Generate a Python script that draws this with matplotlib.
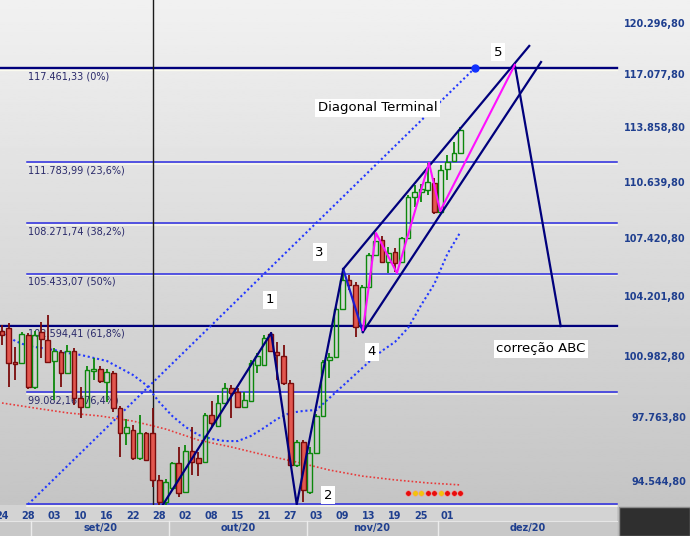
import matplotlib
matplotlib.use('Agg')
import matplotlib.pyplot as plt
import matplotlib.patheffects as pe
from matplotlib.ticker import NullLocator
from matplotlib.transforms import blended_transform_factory
import numpy as np


# ---------------------------------------------------------------------------------
# Ibovespa diário, um candle por pregão
# ---------------------------------------------------------------------------------
abertura = [102310, 102470, 100650, 100600, 102090, 99340, 102250, 101820, 100710, 101190,
            100080, 101240, 98770, 98300, 100180, 100290, 99600, 100080, 98250, 96970,
            97120, 95710, 96970, 96970, 94610, 93520, 94210, 95450, 94010, 96060,
            95710, 95500, 97890, 97330, 98510, 99290, 99080, 98300, 98610, 100500,
            100500, 102150, 101190, 100970, 99550, 95350, 96510, 94010, 95960, 97840,
            100760, 100920, 103500, 105080, 104810, 102520, 104700, 106470, 107320, 106080,
            106640, 106080, 107430, 109770, 110060, 110170, 110580, 108910, 111390, 111860,
            112330]
maxima = [102630, 102740, 101450, 102250, 102200, 102310, 102790, 103170, 101400, 101290,
          101560, 101400, 99340, 100440, 100870, 100440, 100290, 100180, 98360, 97690,
          97380, 97890, 97020, 98250, 94850, 94650, 95500, 96260, 96360, 97280,
          96010, 98000, 98610, 98930, 99550, 99450, 99290, 99080, 100760, 101130,
          102090, 102250, 101720, 101560, 99710, 96610, 96610, 96260, 97940, 100760,
          101130, 103600, 105690, 105360, 104970, 104810, 106590, 107710, 107540, 106920,
          106870, 107480, 109880, 110460, 110520, 111750, 110870, 111630, 112220, 112980,
          113880]
minima = [101560, 99340, 99710, 100550, 99240, 99240, 100870, 100600, 98670, 99340,
          100020, 98410, 97740, 98250, 99710, 99550, 98560, 98050, 95760, 96360,
          95610, 95610, 95560, 94260, 93320, 93370, 94110, 93770, 93960, 94850,
          94800, 95450, 97280, 97280, 98460, 97740, 98250, 98250, 98560, 100080,
          100440, 101190, 99710, 99450, 95300, 95250, 93520, 93910, 95910, 97790,
          99810, 100870, 103440, 104530, 101990, 102310, 104640, 106420, 106030, 105470,
          105530, 106030, 107370, 109190, 109480, 109880, 108790, 108850, 110750, 111800,
          112270]
fechamento = [102090, 100600, 100550, 102150, 99340, 102090, 101880, 100650, 101240, 100080,
              101240, 98770, 98300, 100230, 100290, 99660, 100130, 98250, 96970, 97280,
              95710, 96970, 95610, 94610, 93520, 94510, 95450, 93960, 96060, 95500,
              95450, 97890, 97480, 98510, 99290, 99030, 98300, 98670, 100600, 100970,
              101930, 101240, 101030, 99550, 95350, 96510, 94110, 95960, 97840, 100650,
              100920, 103500, 105080, 104810, 102520, 104700, 106470, 107260, 106080, 106590,
              106030, 107430, 109770, 110060, 110230, 110640, 108910, 111330, 111800, 112330,
              113700]

# médias móveis (pontos lidos)
media_azul_idx = list(range(0, 71, 2))
media_azul = [102310, 101770, 101500, 101400, 101290, 101130, 101030, 100870, 100710, 100340,
              99970, 99450, 98560, 97840, 97280, 96870, 96670, 96560, 96560, 96820,
              97230, 97690, 98000, 98100, 98150, 98770, 99390, 100020, 100650, 101240,
              101720, 102470, 103710, 104860, 106530, 107770]
media_verm_idx = list(range(0, 71, 5))
media_verm = [98510, 98250, 98000, 97840, 97580, 97170, 96610, 96260, 95860, 95500,
              95100, 94800, 94610, 94460, 94360]

# retração de Fibonacci
fibo_valores = [117461.33, 111783.99, 108271.74, 105433.07, 102594.41, 99082.16, 93405.0]
fibo_rotulos = ['117.461,33 (0%)', '111.783,99 (23,6%)', '108.271,74 (38,2%)',
                '105.433,07 (50%)', '102.594,41 (61,8%)', '99.082,16 (76,4%)', '']

# contagem de ondas e desenhos
onda_x = [24.6, 41.1, 45.0, 52.1, 55.1]
onda_y = [93400, 102200, 93400, 105690, 102250]
rosa_x = [55.1, 57.1, 60.3, 65.2, 66.9, 78.3]
rosa_y = [102360, 107710, 105470, 111750, 108960, 117650]
canal_sup_x = [52.1, 80.5]
canal_sup_y = [105690, 118830]
canal_inf_x = [55.1, 82.3]
canal_inf_y = [102250, 117830]
abc_x = [78.3, 85.3]
abc_y = [117650, 102570]
tendencia_x = [3.97, 72.2]
tendencia_y = [93400, 117461.33]

# sinais na parte de baixo (pregões 62 a 70)
sinais_idx = list(range(62, 71))
sinais_cor = ['v', 'a', 'a', 'v', 'v', 'a', 'v', 'v', 'v']
sinais_nivel = 93960

# eixos
dias_rotulo = ['24', '28', '03', '10', '16', '22', '28', '02', '08', '15', '21', '27',
               '03', '09', '13', '19', '25', '01']
meses = ['set/20', 'out/20', 'nov/20', 'dez/20']
divisao_meses = [4.5, 25.5, 46.5, 66.5]
precos_eixo = [120296.80, 117077.80, 113858.80, 110639.80, 107420.80, 104201.80,
               100982.80, 97763.80, 94544.80]


def fmt_br(v):
    return '{:,.2f}'.format(v).replace(',', 'X').replace('.', ',').replace('X', '.')


W, H = 690, 536
fig = plt.figure(figsize=(W / 100, H / 100), dpi=100)

# fundo degradê
fundo = fig.add_axes([0, 0, 1, 1], zorder=-10)
grad = np.linspace(0.945, 0.76, 256).reshape(-1, 1)
fundo.imshow(grad, cmap='gray', vmin=0, vmax=1, aspect='auto', extent=[0, 1, 0, 1])
fundo.set_xlim(0, 1)
fundo.set_ylim(0, 1)
fundo.axis('off')

# faixa do eixo x
fundo.add_patch(plt.Rectangle((0, 15 / H), 617 / W, 16 / H, color='#d3d3d3', lw=0))
fundo.add_patch(plt.Rectangle((0, 0), 617 / W, 15 / H, color='#c8c8c8', lw=0))
fundo.plot([0, 617 / W], [15 / H, 15 / H], color='#e6e6e6', lw=0.8)
fundo.add_patch(plt.Rectangle((619 / W, 0), 71 / W, 29 / H, facecolor='#2f2f2f',
                              edgecolor='#8c8c8c', lw=1))

ax = fig.add_axes([0, 31 / H, 617 / W, 505 / H])
ax.patch.set_alpha(0)
ax.set_yscale('log')
ax.set_xlim(-0.305, 93.9)
ax.set_ylim(93371, 121732)
for s in ax.spines.values():
    s.set_visible(False)

# linhas de Fibonacci
sombra = [pe.SimpleLineShadow(offset=(0, -1.3), shadow_color='#fbfbef', alpha=1), pe.Normal()]
for k, (v, rot) in enumerate(zip(fibo_valores, fibo_rotulos)):
    forte = k in (0, 4)
    x0 = -0.305 if forte else 3.8
    ax.plot([x0, 93.9], [v, v], color='#00007c' if forte else '#2b2be0',
            lw=1.7 if forte else 1.1, path_effects=sombra, zorder=2, clip_on=False)
    if rot:
        ax.annotate(rot, (3.97, v), xytext=(0, -2.2), textcoords='offset points',
                    ha='left', va='top', fontsize=7, color='#2a2a6a', zorder=3)

# linha vertical
ax.axvline(23, color='#1a1a1a', lw=1, zorder=2)

# médias e tendência pontilhadas
ax.plot(media_verm_idx, media_verm, color='#e83a3a', lw=1.2, ls=(0, (1, 1.3)), zorder=3)
ax.plot(media_azul_idx, media_azul, color='#2238ff', lw=1.5, ls=(0, (1, 1.3)), zorder=3)
ax.plot(tendencia_x, tendencia_y, color='#2238ff', lw=1.5, ls=(0, (1, 1.3)), zorder=3)
ax.plot(tendencia_x[-1], tendencia_y[-1], 'o', color='#1030ff', ms=5, zorder=6)

# candles
x = np.arange(len(abertura))
for i in x:
    o, h, l, c = abertura[i], maxima[i], minima[i], fechamento[i]
    cor = '#0c880c' if c >= o else '#7a0c0c'
    ax.vlines(i, max(o, c), h, color=cor, lw=1.3, zorder=4)
    ax.vlines(i, l, min(o, c), color=cor, lw=1.3, zorder=4)
bases = [min(o, c) for o, c in zip(abertura, fechamento)]
alturas = [max(abs(c - o), 60) for o, c in zip(abertura, fechamento)]
preench = ['none' if c >= o else '#e2574f' for o, c in zip(abertura, fechamento)]
bordas = ['#0c880c' if c >= o else '#7a0c0c' for o, c in zip(abertura, fechamento)]
ax.bar(x, alturas, bottom=bases, width=0.72, color=preench, edgecolor=bordas,
       linewidth=1.0, zorder=5)

# ondas
ax.plot(onda_x[:4], onda_y[:4], color='#00007c', lw=1.6, zorder=6)
ax.plot(onda_x[3:], onda_y[3:], color='#1c1cd0', lw=1.6, zorder=6)
ax.plot(canal_sup_x, canal_sup_y, color='#00007c', lw=1.6, zorder=6)
ax.plot(canal_inf_x, canal_inf_y, color='#00007c', lw=1.6, zorder=6)
ax.plot(abc_x, abc_y, color='#00007c', lw=1.6, zorder=6)
ax.plot(rosa_x, rosa_y, color='#ff10ff', lw=1.5, zorder=6)

# sinais
cores_sinal = {'v': '#e80c0c', 'a': '#f2c40c'}
for i, s in zip(sinais_idx, sinais_cor):
    ax.plot(i, sinais_nivel, 'o', color=cores_sinal[s], ms=4, mec='#f0a0a0', mew=0.4, zorder=6)

# textos
caixa = dict(boxstyle='square,pad=0.2', fc='white', ec='none')
ax.text(40.9, 103986, '1', fontsize=9.5, ha='center', va='center', bbox=caixa, zorder=7)
ax.text(49.8, 93860, '2', fontsize=9.5, ha='center', va='center', bbox=caixa, zorder=7)
ax.text(48.5, 106640, '3', fontsize=9.5, ha='center', va='center', bbox=caixa, zorder=7)
ax.text(56.5, 101185, '4', fontsize=9.5, ha='center', va='center', bbox=caixa, zorder=7)
ax.text(75.7, 118450, '5', fontsize=9.5, ha='center', va='center', bbox=caixa, zorder=7)
ax.text(57.4, 115030, 'Diagonal Terminal', fontsize=9.5, ha='center', va='center',
        bbox=caixa, zorder=7)
ax.text(82.3, 101345, 'correção ABC', fontsize=9.5, ha='center', va='center',
        bbox=caixa, zorder=7)

# eixo y à direita
ax.yaxis.set_minor_locator(NullLocator())
ax.set_yticks(precos_eixo)
ax.set_yticklabels([fmt_br(v) for v in precos_eixo])
ax.yaxis.tick_right()
ax.tick_params(axis='y', length=0, pad=49.7, labelsize=7, labelcolor='#1f3f8f')
for lab in ax.get_yticklabels():
    lab.set_ha('right')
    lab.set_fontweight('bold')

# eixo x
ax.set_xticks(list(range(0, 4 * len(dias_rotulo), 4)))
ax.set_xticklabels(dias_rotulo)
ax.tick_params(axis='x', length=0, pad=4, labelsize=7, labelcolor='#1f3f8f')
for lab in ax.get_xticklabels():
    lab.set_fontweight('bold')

trans = blended_transform_factory(ax.transData, fig.transFigure)
limites = divisao_meses + [93.9]
for k, m in enumerate(meses):
    meio = (limites[k] + limites[k + 1]) / 2
    ax.text(meio, 7.5 / H, m, transform=trans, ha='center', va='center', fontsize=7,
            fontweight='bold', color='#1f3f8f', clip_on=False)
for d in divisao_meses:
    ax.plot([d, d], [0, 15 / H], transform=trans, color='#ececec', lw=1, clip_on=False)

plt.savefig('out.png', dpi=100)
